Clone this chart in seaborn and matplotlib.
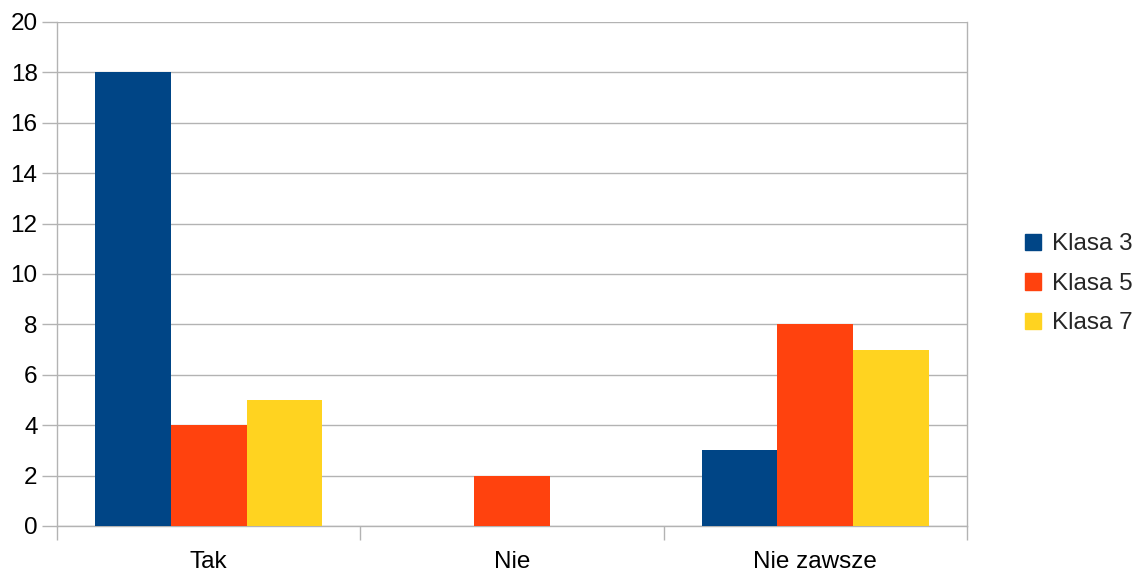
import matplotlib
matplotlib.use("Agg")
import matplotlib.pyplot as plt
import pandas as pd
import seaborn as sns

categories = ["Tak", "Nie", "Nie zawsze"]
series = ["Klasa 3", "Klasa 5", "Klasa 7"]
klasa_3 = [18, 0, 3]
klasa_5 = [4, 2, 8]
klasa_7 = [5, 0, 7]
colors = ["#004586", "#ff420e", "#ffd320"]
y_ticks = list(range(0, 21, 2))

df = pd.DataFrame({
    "category": categories * 3,
    "series": [s for s in series for _ in categories],
    "value": klasa_3 + klasa_5 + klasa_7,
})

sns.set_style("white")
plt.rcParams["font.family"] = ["Liberation Sans", "DejaVu Sans"]
grid_c = "#b3b3b3"
fs = 17.5

fig = plt.figure(figsize=(11.46, 5.74), dpi=100)
ax = fig.add_axes([57 / 1146, 1 - 526 / 574, 910 / 1146, 504 / 574])

sns.barplot(
    data=df, x="category", y="value", hue="series",
    order=categories, hue_order=series, palette=colors,
    width=0.75, gap=0, saturation=1, linewidth=0, ax=ax, zorder=3,
)

ax.set_xlim(-0.5, 2.5)
ax.set_ylim(0, 20)
ax.set_yticks(y_ticks)
ax.yaxis.grid(True, color=grid_c, linewidth=1, zorder=0)
ax.set_axisbelow(True)
ax.set_xlabel("")
ax.set_ylabel("")
for sp in ax.spines.values():
    sp.set_color(grid_c)
    sp.set_linewidth(1)
ax.spines["top"].set_visible(False)

ax.tick_params(axis="y", left=True, length=11, width=1, color=grid_c,
               labelsize=fs, pad=3, labelcolor="black")
ax.tick_params(axis="x", which="major", bottom=True, length=0, labelsize=fs,
               pad=18, labelcolor="black")
ax.set_xticks([-0.5, 0.5, 1.5, 2.5], minor=True)
ax.tick_params(axis="x", which="minor", bottom=True, length=10, width=1, color=grid_c)

ax.get_legend().remove()
handles = [plt.Rectangle((0, 0), 1, 1, color=c) for c in colors]
fig.legend(
    handles, series, loc="center left", bbox_to_anchor=(1025 / 1146, 1 - 284 / 574),
    frameon=False, fontsize=fs, handlelength=0.65, handleheight=0.65,
    handletextpad=0.45, labelspacing=0.72, borderpad=0, borderaxespad=0,
)

fig.savefig("out.png", dpi=100)
